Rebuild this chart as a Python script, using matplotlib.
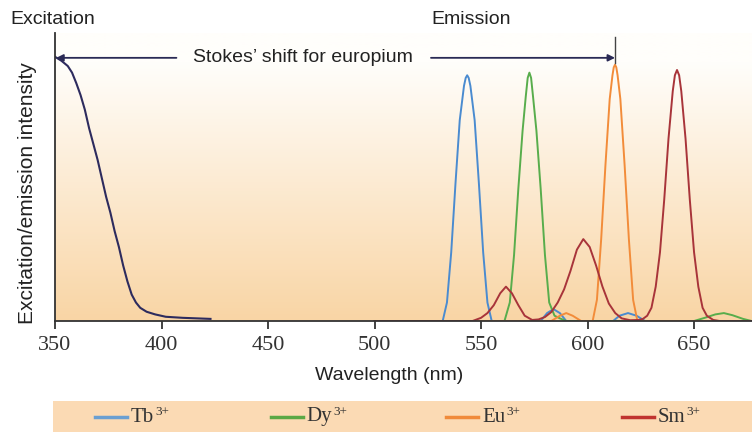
import numpy as np
import matplotlib
matplotlib.use("Agg")
import matplotlib.pyplot as plt
from matplotlib.lines import Line2D
from matplotlib.patches import Rectangle
from matplotlib.colors import to_rgb

plt.rcParams['font.family'] = ['Liberation Sans', 'DejaVu Sans']

# --- data (wavelength nm, relative intensity) ---
exc_nm = [350, 353, 356, 358, 360, 362, 364, 366, 368, 370, 372, 374, 376, 378,
          380, 382, 384, 386, 388, 390, 393, 397, 402, 410, 423]
exc_int = [1.0, 0.985, 0.965, 0.94, 0.9, 0.855, 0.8, 0.73, 0.67, 0.61, 0.54, 0.47,
           0.41, 0.34, 0.28, 0.21, 0.15, 0.1, 0.07, 0.05, 0.035, 0.025, 0.016, 0.012, 0.008]

tb_nm = [500, 532, 534, 536, 538, 540, 542, 542.8, 543.5, 544.2, 545, 547, 549, 551,
         553, 555, 578, 581, 584, 587, 590, 612, 615, 619, 623, 627, 677]
tb_int = [0, 0, 0.07, 0.26, 0.52, 0.76, 0.89, 0.92, 0.93, 0.92, 0.89, 0.76, 0.52, 0.26,
          0.07, 0, 0, 0.03, 0.045, 0.03, 0, 0, 0.02, 0.03, 0.02, 0, 0]

dy_nm = [500, 561, 563.5, 565.5, 567.5, 569.5, 571, 571.9, 572.7, 573.5, 574.4, 576,
         578, 580, 582, 584.5, 587, 590, 650, 655, 660, 664, 668, 673, 677]
dy_int = [0, 0, 0.07, 0.25, 0.5, 0.72, 0.85, 0.92, 0.94, 0.92, 0.85, 0.72,
          0.5, 0.25, 0.07, 0.02, 0.01, 0, 0, 0.012, 0.025, 0.03, 0.022, 0.008, 0]

eu_nm = [500, 583, 587, 590, 593, 597, 602.4, 604.4, 606.4, 608.4, 610.4, 611.7,
         612.3, 612.9, 613.5, 614.1, 615.4, 617.4, 619.4, 621.4, 623.4, 677]
eu_int = [0, 0, 0.02, 0.03, 0.02, 0, 0, 0.08, 0.31, 0.59, 0.84, 0.93,
          0.96, 0.97, 0.96, 0.93, 0.84, 0.59, 0.31, 0.08, 0, 0]

sm_nm = [500, 546, 550, 553, 556, 559, 561.7, 564.5, 567.5, 570.5, 574, 577, 580,
         583, 586, 589, 592, 595, 598, 601, 604, 607, 610, 613, 616, 620, 624,
         626, 628, 630, 632, 634, 636, 638, 640, 641, 642, 643, 644, 646, 648, 650, 652,
         654, 656, 659, 662, 677]
sm_int = [0, 0, 0.012, 0.03, 0.06, 0.105, 0.13, 0.105, 0.06, 0.02, 0.004, 0.006, 0.015,
          0.034, 0.07, 0.12, 0.19, 0.27, 0.31, 0.28, 0.21, 0.13, 0.066, 0.03, 0.01, 0.003, 0.004,
          0.008, 0.02, 0.05, 0.13, 0.26, 0.46, 0.69, 0.87, 0.93, 0.95, 0.93, 0.87, 0.69, 0.46, 0.26, 0.13,
          0.05, 0.02, 0.004, 0, 0]

# name, x, y, curve colour, legend colour
series = [
    ("Tb", tb_nm, tb_int, "#4a8bd0", "#6a9fd2"),
    ("Dy", dy_nm, dy_int, "#58ad4c", "#5aa845"),
    ("Eu", eu_nm, eu_int, "#f28c3a", "#f08a3a"),
    ("Sm", sm_nm, sm_int, "#a8343a", "#c0332f"),
]
x_ticks = [350, 400, 450, 500, 550, 600, 650]
x_max = 677.2
y_max = 1.09

fig = plt.figure(figsize=(7.52, 4.32), dpi=100)
ax = fig.add_axes([55 / 752, 111 / 432, 697 / 752, 288 / 432])

# background gradient: white at top, peach at bottom
top = np.array(to_rgb("#fffefb"))
bot = np.array(to_rgb("#f9d5a5"))
t = np.linspace(0, 1, 256)[:, None]
t = np.clip(t / 0.9, 0, 1)
grad = (bot * (1 - t) + top * t)[:, None, :]
ax.imshow(grad, extent=[350, x_max, 0, y_max], aspect="auto", origin="lower", zorder=0)

ax.plot(exc_nm, exc_int, color="#2d2b5e", lw=1.5, zorder=3)
for name, xs, ys, col, _ in series:
    ax.plot(xs, ys, color=col, lw=1.4, zorder=3)

ax.set_xlim(350, x_max)
ax.set_ylim(0, y_max)

for s in ["top", "right"]:
    ax.spines[s].set_visible(False)
for s in ["left", "bottom"]:
    ax.spines[s].set_color("#333333")
    ax.spines[s].set_linewidth(1.3)
    ax.spines[s].set_zorder(4)

ax.set_xticks(x_ticks)
ax.set_xticklabels([str(v) for v in x_ticks], fontfamily="Liberation Serif", fontsize=16, color="#333333")
ax.tick_params(axis="x", length=6, width=1.3, color="#333333", pad=5)
ax.set_yticks([])

ax.set_xlabel("Wavelength (nm)", fontsize=14, color="#222222")
ax.xaxis.set_label_coords(0.48, -(375 - 321) / 288)
ax.xaxis.label.set_verticalalignment("center")
ax.set_ylabel("Excitation/emission intensity", fontsize=15, color="#222222")
ax.yaxis.set_label_coords(-27 / 697, (321 - 193) / 288)
ax.yaxis.label.set_verticalalignment("center")

# Stokes shift arrow: excitation max -> europium emission peak
eu_peak = eu_nm[int(np.argmax(eu_int))]
y_arr = 0.996
arrow_col = "#2a2a55"
ax.annotate("", xy=(exc_nm[0] + 0.6, y_arr), xytext=(407, y_arr),
            arrowprops=dict(arrowstyle="-|>", color=arrow_col, lw=1.3, mutation_scale=10,
                            shrinkA=0, shrinkB=0), zorder=5)
ax.annotate("", xy=(eu_peak, y_arr), xytext=(526.5, y_arr),
            arrowprops=dict(arrowstyle="-|>", color=arrow_col, lw=1.3, mutation_scale=10,
                            shrinkA=0, shrinkB=0), zorder=5)
ax.plot([eu_peak, eu_peak], [0.977, 1.076], color="#444444", lw=1.0, zorder=5)
ax.text(466.5, y_arr, "Stokes\u2019 shift for europium", ha="center", va="center",
        fontsize=14, color="#222222", zorder=5)

fig.text(10 / 752, 1 - 20 / 432, "Excitation", ha="left", va="center", fontsize=14, color="#222222")
fig.text(431 / 752, 1 - 20 / 432, "Emission", ha="left", va="center", fontsize=14, color="#222222")

# legend band
fig.add_artist(Rectangle((53 / 752, 0), 1 - 53 / 752, 31 / 432, transform=fig.transFigure,
                         facecolor="#fbdab4", edgecolor="none", zorder=0))
y_leg = 1 - 417 / 432
for i, (name, xs, ys, col, leg_col) in enumerate(series):
    x0 = (95 + 175.5 * i) / 752
    fig.add_artist(Line2D([x0, x0 + 32 / 752], [y_leg, y_leg], transform=fig.transFigure,
                          color=leg_col, lw=2.5))
    lbl = fig.text(x0 + 36 / 752, y_leg, name, ha="left", va="center",
                   fontfamily="Liberation Serif", fontsize=15, color="#333333")
    # superscript charge
    ax.annotate("3+", xy=(1, 0.78), xycoords=lbl, xytext=(0.8, 0), textcoords="offset points",
                ha="left", va="center", fontfamily="Liberation Serif", fontsize=9.5,
                color="#333333", annotation_clip=False)

fig.savefig("out.png", dpi=100)
